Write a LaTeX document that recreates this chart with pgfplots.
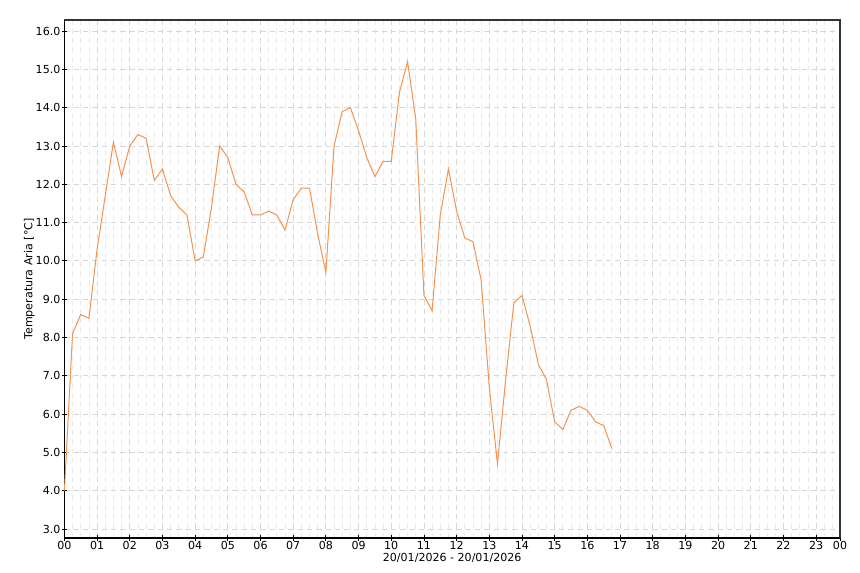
\documentclass[border=0pt]{standalone}
\usepackage{pgfplots}
\pgfplotsset{compat=1.18}
\usepackage{fontspec}
\setmainfont{DejaVu Sans}
\definecolor{lineor}{RGB}{244,146,80}
\definecolor{gridmaj}{RGB}{215,215,215}
\definecolor{gridmin}{RGB}{235,235,235}
\begin{document}
\begin{tikzpicture}[x=1pt,y=1pt]
\path[use as bounding box] (-48.3pt,-26.25pt) rectangle (596.7pt,403.5pt);
\begin{axis}[
  at={(0,0)}, anchor=south west,
  scale only axis, width=581.7pt, height=388.5pt,
  xmin=0, xmax=23.73, ymin=2.765, ymax=16.29,
  xtick={0,1,2,3,4,5,6,7,8,9,10,11,12,13,14,15,16,17,18,19,20,21,22,23,23.73},
  xticklabels={00,01,02,03,04,05,06,07,08,09,10,11,12,13,14,15,16,17,18,19,20,21,22,23,00},
  minor xtick={0.25,0.5,...,23.75},
  ytick={3,4,5,6,7,8,9,10,11,12,13,14,15,16},
  yticklabels={3.0,4.0,5.0,6.0,7.0,8.0,9.0,10.0,11.0,12.0,13.0,14.0,15.0,16.0},
  tick label style={font=\fontsize{8.3pt}{9pt}\selectfont, text=black},
  xticklabel style={yshift=3pt},
  yticklabel style={xshift=2.5pt},
  major tick length=4pt, minor tick length=0pt,
  tick align=center,
  tick style={black, line width=0.6pt},
  xtick pos=bottom, ytick pos=left,
  grid=both,
  major grid style={gridmaj, dash pattern=on 4pt off 3pt, line width=0.6pt},
  minor grid style={gridmin, dash pattern=on 4pt off 3pt, line width=0.6pt},
  axis line style={line width=0.8pt},
  separate axis lines,
  every outer x axis line/.append style={black},
  every outer y axis line/.append style={black},
  axis background/.style={fill=white},
  xlabel={20/01/2026 - 20/01/2026},
  ylabel={Temperatura Aria [°C]},
  label style={font=\fontsize{8.3pt}{9pt}\selectfont},
  xlabel style={yshift=4pt},
  ylabel style={yshift=-6pt},
  clip=false,
]
\addplot[lineor, line width=0.75pt, mark=none] coordinates {
(0.00,4.0) (0.25,8.1) (0.50,8.6) (0.75,8.5) (1.00,10.3) (1.25,11.7) (1.50,13.1) (1.75,12.2)
(2.00,13.0) (2.25,13.3) (2.50,13.2) (2.75,12.1) (3.00,12.4) (3.25,11.7) (3.50,11.4) (3.75,11.2)
(4.00,10.0) (4.25,10.1) (4.50,11.4) (4.75,13.0) (5.00,12.7) (5.25,12.0) (5.50,11.8) (5.75,11.2)
(6.00,11.2) (6.25,11.3) (6.50,11.2) (6.75,10.8) (7.00,11.6) (7.25,11.9) (7.50,11.9) (7.75,10.7)
(8.00,9.7) (8.25,13.0) (8.50,13.9) (8.75,14.0) (9.00,13.4) (9.25,12.7) (9.50,12.2) (9.75,12.6)
(10.00,12.6) (10.25,14.4) (10.50,15.2) (10.75,13.7) (11.00,9.1) (11.25,8.7) (11.50,11.2) (11.75,12.4)
(12.00,11.3) (12.25,10.6) (12.50,10.5) (12.75,9.5) (13.00,6.7) (13.25,4.7) (13.50,6.9) (13.75,8.9)
(14.00,9.1) (14.25,8.3) (14.50,7.3) (14.75,6.9) (15.00,5.8) (15.25,5.6) (15.50,6.1) (15.75,6.2)
(16.00,6.1) (16.25,5.8) (16.50,5.7) (16.75,5.1)
};
\draw[black!80, line width=0.8pt] (rel axis cs:0,1) -- (rel axis cs:1,1) -- (rel axis cs:1,0);
\end{axis}
\end{tikzpicture}
\end{document}
